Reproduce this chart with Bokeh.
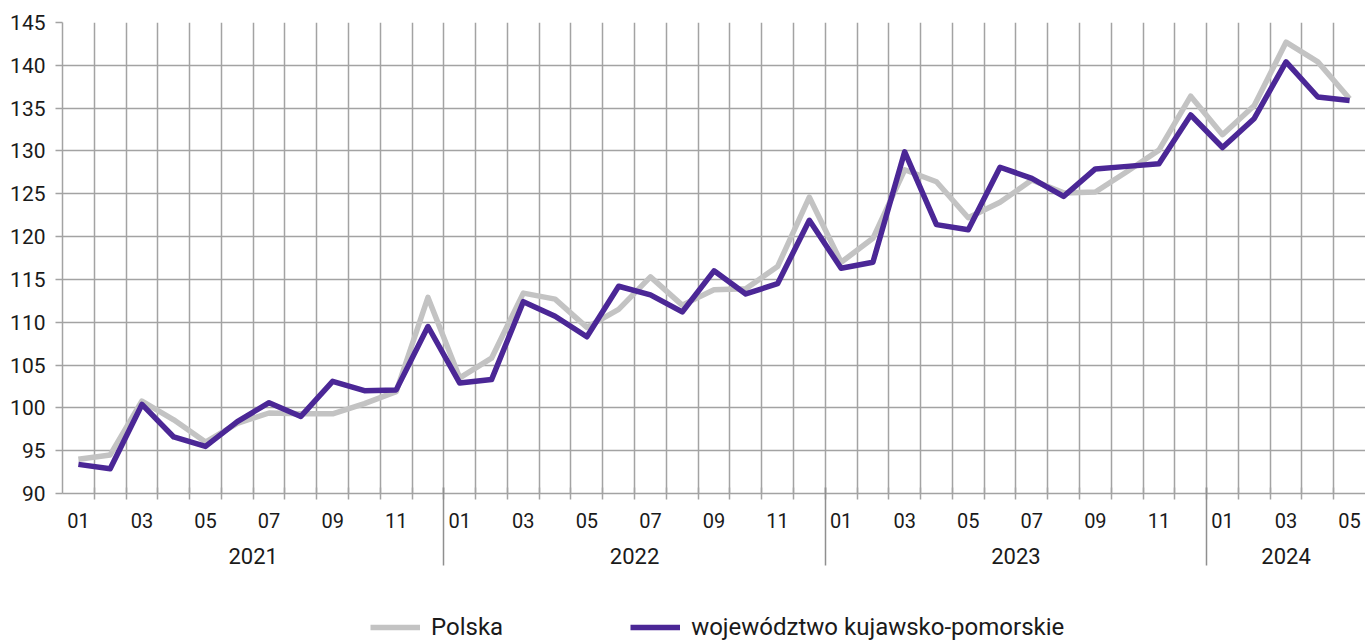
from bokeh.plotting import figure
from bokeh.layouts import column
from bokeh.models import Range1d, FixedTicker, LinearAxis, Legend, LegendItem
from bokeh.embed import file_html
from bokeh.resources import INLINE

# ---- data ----
periods = [
    "2021-01", "2021-02", "2021-03", "2021-04", "2021-05", "2021-06",
    "2021-07", "2021-08", "2021-09", "2021-10", "2021-11", "2021-12",
    "2022-01", "2022-02", "2022-03", "2022-04", "2022-05", "2022-06",
    "2022-07", "2022-08", "2022-09", "2022-10", "2022-11", "2022-12",
    "2023-01", "2023-02", "2023-03", "2023-04", "2023-05", "2023-06",
    "2023-07", "2023-08", "2023-09", "2023-10", "2023-11", "2023-12",
    "2024-01", "2024-02", "2024-03", "2024-04", "2024-05",
]
years = ["2021", "2022", "2023", "2024"]
series_names = ["Polska", "województwo kujawsko-pomorskie"]
polska = [94.0, 94.5, 100.8, 98.6, 96.0, 98.2, 99.4, 99.3, 99.3, 100.5, 101.9, 112.9,
          103.5, 105.8, 113.4, 112.7, 109.4, 111.5, 115.3, 112.0, 113.8, 113.9, 116.5, 124.6,
          117.0, 119.8, 127.8, 126.4, 122.2, 124.0, 126.6, 125.1, 125.2, 127.6, 130.1, 136.4,
          131.9, 135.3, 142.7, 140.4, 136.1]
kujawsko = [93.4, 92.9, 100.4, 96.6, 95.5, 98.4, 100.6, 99.0, 103.1, 102.0, 102.1, 109.5,
            102.9, 103.3, 112.4, 110.7, 108.3, 114.2, 113.2, 111.2, 116.0, 113.3, 114.5, 121.9,
            116.3, 117.0, 129.9, 121.4, 120.8, 128.1, 126.8, 124.7, 127.9, 128.2, 128.5, 134.2,
            130.4, 133.8, 140.4, 136.3, 135.9]
y_ticks = [90, 95, 100, 105, 110, 115, 120, 125, 130, 135, 140, 145]

# ---- styling ----
FONT = "Roboto"
GRID = "#a3a3a3"
TEXT = "#1a1a1a"
GRAY_LINE = "#c3c3c3"
PURPLE = "#4b2796"
LINE_W = 5.5

n = len(periods)
x = list(range(n))
month_of = [p_.split("-")[1] for p_ in periods]
year_of = [p_.split("-")[0] for p_ in periods]

boundaries = [i + 0.5 for i in range(n - 1)]
label_ticks = [i for i in x if int(month_of[i]) % 2 == 1]
month_overrides = {i: month_of[i] for i in label_ticks}

year_centers, year_bounds, year_overrides = [], [], {}
for yr in years:
    idx = [i for i in x if year_of[i] == yr]
    c = (idx[0] + idx[-1]) / 2
    year_centers.append(c)
    year_overrides[c] = yr
    if idx[-1] < n - 1:
        year_bounds.append(idx[-1] + 0.5)

p = figure(width=1365, height=612, output_backend="svg", toolbar_location=None,
           x_range=Range1d(-0.5, n - 0.5), y_range=Range1d(90, 145),
           min_border_left=62, min_border_right=0, min_border_top=22,
           min_border_bottom=119)
p.outline_line_color = None
p.background_fill_color = "white"
p.border_fill_color = "white"

# grids
p.xgrid.ticker = FixedTicker(ticks=boundaries)
p.ygrid.ticker = FixedTicker(ticks=y_ticks)
p.xgrid.grid_line_color = GRID
p.ygrid.grid_line_color = GRID
p.xgrid.grid_line_width = 1.5
p.ygrid.grid_line_width = 1.5

# y axis
ya = p.yaxis[0]
ya.ticker = FixedTicker(ticks=y_ticks, minor_ticks=[])
ya.axis_line_color = GRID
ya.axis_line_width = 1.5
ya.major_tick_line_color = GRID
ya.major_tick_line_width = 1.5
ya.major_tick_out = 7
ya.major_tick_in = 0
ya.minor_tick_line_color = None
ya.minor_tick_out = 0
ya.major_label_standoff = 10
ya.major_label_text_font = FONT
ya.major_label_text_font_size = "21px"
ya.major_label_text_color = TEXT

# month axis
xa = p.xaxis[0]
xa.ticker = FixedTicker(ticks=label_ticks, minor_ticks=boundaries)
xa.major_label_overrides = month_overrides
xa.axis_line_color = GRID
xa.axis_line_width = 1.5
xa.major_tick_line_color = None
xa.major_tick_out = 0
xa.major_tick_in = 0
xa.minor_tick_line_color = GRID
xa.minor_tick_line_width = 1.5
xa.minor_tick_out = 6
xa.minor_tick_in = 6
xa.major_label_standoff = 13
xa.major_label_text_font = FONT
xa.major_label_text_font_size = "20px"
xa.major_label_text_color = TEXT

# year axis (separators are its minor ticks)
ya2 = LinearAxis(ticker=FixedTicker(ticks=year_centers, minor_ticks=year_bounds),
                 major_label_overrides=year_overrides)
ya2.axis_line_color = None
ya2.major_tick_line_color = None
ya2.major_tick_out = 0
ya2.major_tick_in = 0
ya2.minor_tick_line_color = "#8f8f8f"
ya2.minor_tick_line_width = 1.5
ya2.minor_tick_in = 43
ya2.minor_tick_out = 35
ya2.major_label_standoff = -18
ya2.major_label_text_font = FONT
ya2.major_label_text_font_size = "22px"
ya2.major_label_text_color = TEXT
p.add_layout(ya2, "below")

# lines
p.line(x, polska, line_color=GRAY_LINE, line_width=LINE_W, line_join="round")
p.line(x, kujawsko, line_color=PURPLE, line_width=LINE_W, line_join="round")

# legend strip: a small figure whose ranges keep its copies of the series out of view
lg = figure(width=1365, height=29, output_backend="svg", toolbar_location=None,
            x_axis_location=None, y_axis_location=None,
            x_range=Range1d(-0.5, n - 0.5), y_range=Range1d(0, 1),
            min_border=0, min_border_left=0, min_border_right=0,
            min_border_top=0, min_border_bottom=0)
lg.grid.visible = False
lg.outline_line_color = None
lg.background_fill_color = "white"
lg.border_fill_color = "white"
pr1 = lg.line(x, polska, line_color=GRAY_LINE, line_width=LINE_W)
pr2 = lg.line(x, kujawsko, line_color=PURPLE, line_width=LINE_W)
legend = Legend(items=[LegendItem(label=series_names[0], renderers=[pr1]),
                       LegendItem(label=series_names[1], renderers=[pr2])],
                orientation="horizontal", location=(308, 0),
                glyph_width=50, glyph_height=20, label_standoff=11, spacing=127,
                padding=0, margin=0, border_line_color=None,
                background_fill_alpha=0,
                label_text_font=FONT, label_text_font_size="24px",
                label_text_color=TEXT)
lg.add_layout(legend)

layout = column(p, lg, spacing=0)
open("out.html", "w").write(file_html(layout, INLINE))
